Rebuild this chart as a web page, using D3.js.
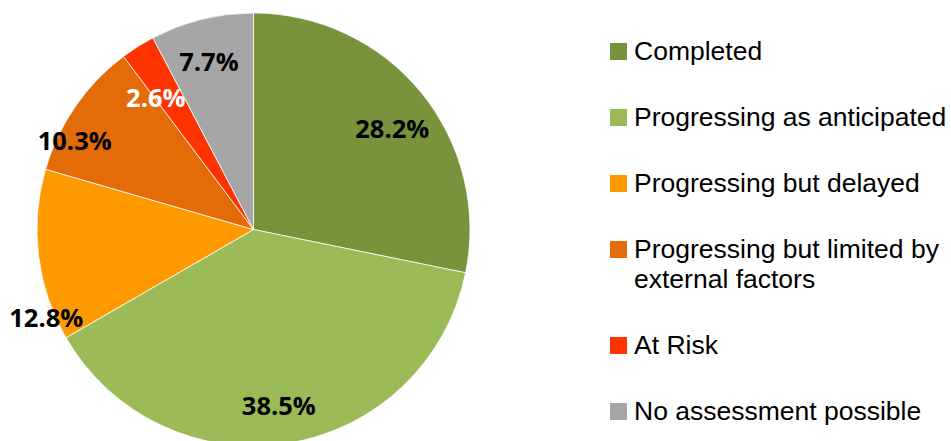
<!DOCTYPE html>
<html>
<head>
<meta charset="utf-8">
<script src="https://cdn.jsdelivr.net/npm/d3@7"></script>
<style>
  body { margin: 0; background: #fff; }
</style>
</head>
<body>
<svg id="chart" width="951" height="441"></svg>
<script>
const categories = ["Completed", "Progressing as anticipated", "Progressing but delayed",
    "Progressing but limited by external factors", "At Risk", "No assessment possible"];
const legendLines = [["Completed"], ["Progressing as anticipated"], ["Progressing but delayed"],
    ["Progressing but limited by", "external factors"], ["At Risk"], ["No assessment possible"]];
const counts = [11, 15, 5, 4, 1, 3];
const labels = ["28.2%", "38.5%", "12.8%", "10.3%", "2.6%", "7.7%"];
const colors = ["#77933C", "#9BBB59", "#FF9900", "#E36C09", "#FF3300", "#A6A6A6"];
const labelColors = ["#000", "#000", "#000", "#000", "#fff", "#000"];

// label placement (radius, angle nudge in degrees) - excel "best fit"
const labelRadius = [172, 177, 225, 200, 165, 174];
const labelNudge = [3, 1, -16, -8, -4, -1];

const svg = d3.select("#chart");
const cx = 253.5, cy = 229.5, radius = 216.5;

const pie = d3.pie().sort(null).value(d => d);
const arcs = pie(counts);

const arc = d3.arc().innerRadius(0).outerRadius(radius);

const g = svg.append("g").attr("transform", `translate(${cx}, ${cy})`);

g.selectAll(".slice")
    .data(arcs)
    .enter()
    .append("path")
    .attr("class", "slice")
    .attr("d", arc)
    .attr("fill", (d, i) => colors[i])
    .attr("stroke", "#fff")
    .attr("stroke-width", 0.75);

g.selectAll(".label")
    .data(arcs)
    .enter()
    .append("text")
    .attr("class", "label")
    .attr("transform", (d, i) => {
        const a = (d.startAngle + d.endAngle) / 2 + labelNudge[i] * Math.PI / 180;
        const r = labelRadius[i];
        return `translate(${r * Math.sin(a)}, ${-r * Math.cos(a)})`;
    })
    .attr("text-anchor", "middle")
    .attr("dominant-baseline", "central")
    .attr("font-family", "'Open Sans', sans-serif")
    .attr("font-weight", "bold")
    .attr("font-size", 25.5)
    .attr("fill", (d, i) => labelColors[i])
    .text((d, i) => labels[i]);

// Legend
const rowY = d3.scaleLinear().domain([0, 1]).range([43, 109]);
let offset = 0;
const legend = svg.append("g");
legendLines.forEach((lines, i) => {
    const y = rowY(i) + offset;
    legend.append("rect")
        .attr("x", 610)
        .attr("y", y)
        .attr("width", 17)
        .attr("height", 17)
        .attr("fill", colors[i]);
    const t = legend.append("text")
        .attr("font-family", "'Liberation Sans', Arial, sans-serif")
        .attr("font-size", 26.5)
        .attr("fill", "#000");
    lines.forEach((line, j) => {
        t.append("tspan")
            .attr("x", 634)
            .attr("y", y + 17 + j * 30)
            .text(line);
    });
    offset += (lines.length - 1) * 30;
});
</script>
</body>
</html>
